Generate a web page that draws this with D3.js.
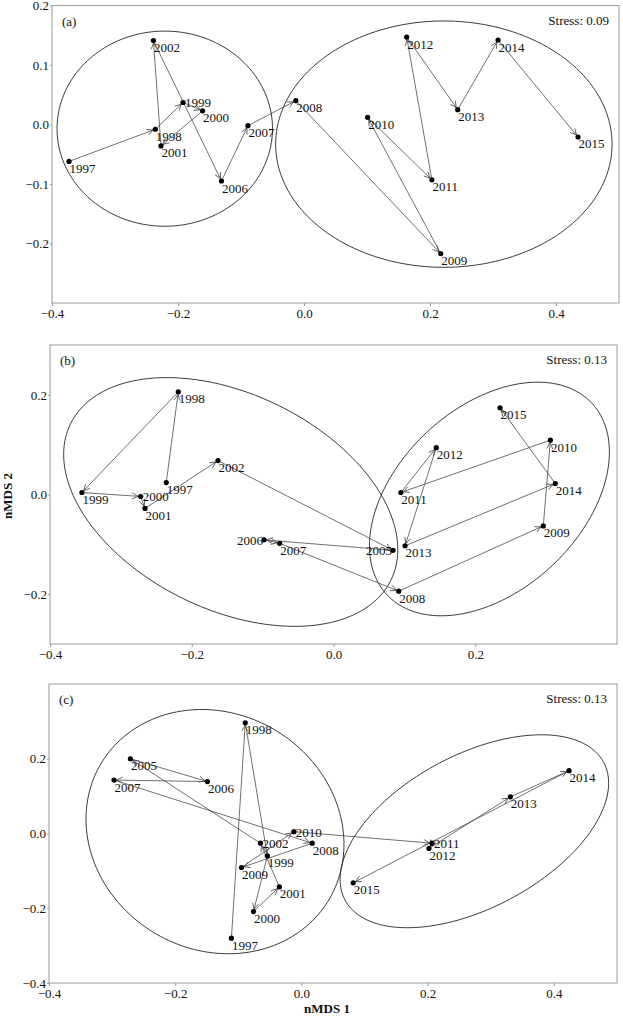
<!DOCTYPE html>
<html>
<head>
<meta charset="utf-8">
<script src="https://cdn.jsdelivr.net/npm/d3@7"></script>
<style>
  body { margin: 0; background: #fff; }
  svg { display: block; }
  svg text { font-family: "Liberation Serif", "Times New Roman", serif; }
</style>
</head>
<body>
<svg id="chart" width="623" height="1018"></svg>
<script>
// ---- data ----
const yearsA = [1997, 1998, 1999, 2000, 2001, 2002, 2006, 2007, 2008, 2009, 2010, 2011, 2012, 2013, 2014, 2015];
const xA = [-0.373, -0.236, -0.192, -0.161, -0.227, -0.239, -0.131, -0.089, -0.013, 0.217, 0.101, 0.203, 0.163, 0.244, 0.308, 0.435];
const yA = [-0.062, -0.008, 0.037, 0.023, -0.036, 0.141, -0.095, -0.002, 0.040, -0.217, 0.012, -0.093, 0.147, 0.025, 0.142, -0.021];

const yearsB = [1997, 1998, 1999, 2000, 2001, 2002, 2005, 2006, 2007, 2008, 2009, 2010, 2011, 2012, 2013, 2014, 2015];
const xB = [-0.236, -0.219, -0.355, -0.272, -0.266, -0.163, 0.084, -0.098, -0.076, 0.092, 0.296, 0.306, 0.095, 0.145, 0.101, 0.313, 0.235];
const yB = [0.024, 0.206, 0.004, -0.004, -0.028, 0.068, -0.112, -0.091, -0.098, -0.194, -0.063, 0.109, 0.004, 0.094, -0.103, 0.022, 0.174];

const yearsC = [1997, 1998, 1999, 2000, 2001, 2002, 2005, 2006, 2007, 2008, 2009, 2010, 2011, 2012, 2013, 2014, 2015];
const xC = [-0.111, -0.089, -0.054, -0.076, -0.035, -0.065, -0.271, -0.149, -0.297, 0.017, -0.095, -0.012, 0.207, 0.202, 0.331, 0.424, 0.082];
const yC = [-0.280, 0.296, -0.060, -0.209, -0.143, -0.026, 0.200, 0.139, 0.143, -0.026, -0.091, 0.005, -0.026, -0.040, 0.098, 0.168, -0.132];

// group ellipses: centre and two half-axis vectors, all in data units
const ellipsesA = [
  { cx: -0.221, cy: -0.007, ux: 0.171, uy: 0, vx: 0, vy: 0.164 },
  { cx: 0.222, cy: -0.033, ux: 0.267, uy: 0, vx: 0, vy: 0.207 }
];
const ellipsesB = [
  { cx: -0.145, cy: -0.015, ux: 0.226, uy: -0.157, vx: -0.067, vy: -0.194 },
  { cx: 0.220, cy: -0.009, ux: 0.144, uy: 0.193, vx: 0.089, vy: -0.133 }
];
const ellipsesC = [
  { cx: -0.137, cy: 0.005, ux: 0.182, uy: -0.178, vx: -0.093, vy: -0.274 },
  { cx: 0.274, cy: 0.006, ux: 0.205, uy: 0.184, vx: 0.057, vy: -0.181 }
];

const stressA = "Stress: 0.09";
const stressB = "Stress: 0.13";
const stressC = "Stress: 0.13";

const xTicksA = [-0.4, -0.2, 0.0, 0.2, 0.4];
const yTicksA = [-0.2, -0.1, 0.0, 0.1, 0.2];
const xTicksB = [-0.4, -0.2, 0.0, 0.2];
const yTicksB = [-0.2, 0.0, 0.2];
const xTicksC = [-0.4, -0.2, 0.0, 0.2, 0.4];
const yTicksC = [-0.4, -0.2, 0.0, 0.2];

// label placement exceptions (default: below right of the point)
const labelPosA = { 1999: "right" };
const labelPosB = { 2000: "right", 2005: "left", 2006: "left" };
const labelPosC = { 2002: "right", 2010: "right", 2011: "right" };

const svg = d3.select("#chart");
const lineColor = "#4a4a4a";
const frameColor = "#9a9a9a";
const serif = "'Liberation Serif', 'Times New Roman', serif";

svg.append("defs").append("marker")
  .attr("id", "arrow")
  .attr("viewBox", "-7 -4 8 8")
  .attr("refX", 0)
  .attr("refY", 0)
  .attr("markerWidth", 8)
  .attr("markerHeight", 8)
  .attr("markerUnits", "userSpaceOnUse")
  .attr("orient", "auto")
  .append("path")
  .attr("d", "M-6,-3L0,0L-6,3")
  .attr("fill", "none")
  .attr("stroke", lineColor)
  .attr("stroke-width", 0.8);

function drawPanel(cfg) {
  const x = d3.scaleLinear().domain(cfg.xDomain).range([cfg.left, cfg.right]);
  const y = d3.scaleLinear().domain(cfg.yDomain).range([cfg.bottom, cfg.top]);
  const g = svg.append("g");

  // frame
  g.append("rect")
    .attr("x", cfg.left).attr("y", cfg.top)
    .attr("width", cfg.right - cfg.left).attr("height", cfg.bottom - cfg.top)
    .attr("fill", "none").attr("stroke", frameColor).attr("stroke-width", 1);

  const fmt = d3.format(".1f");
  const xAxis = g.append("g")
    .attr("transform", `translate(0,${cfg.bottom})`)
    .call(d3.axisBottom(x).tickValues(cfg.xTicks).tickSize(3).tickPadding(3).tickFormat(fmt));
  const yAxis = g.append("g")
    .attr("transform", `translate(${cfg.left},0)`)
    .call(d3.axisLeft(y).tickValues(cfg.yTicks).tickSize(2).tickPadding(1).tickFormat(fmt));
  [xAxis, yAxis].forEach((ax) => {
    ax.attr("font-family", serif);
    ax.select(".domain").remove();
    ax.selectAll("line").attr("stroke", frameColor);
    ax.selectAll("text")
      .attr("fill", "#111")
      .style("font-family", serif)
      .style("font-size", "13px");
  });

  // ellipses
  const ell = d3.line().curve(d3.curveLinearClosed);
  cfg.ellipses.forEach((e) => {
    const pts = d3.range(0, 2 * Math.PI, Math.PI / 90).map((t) => [
      x(e.cx + Math.cos(t) * e.ux + Math.sin(t) * e.vx),
      y(e.cy + Math.cos(t) * e.uy + Math.sin(t) * e.vy)
    ]);
    g.append("path").attr("d", ell(pts))
      .attr("fill", "none").attr("stroke", "#222").attr("stroke-width", 0.9);
  });

  const pts = cfg.years.map((yr, i) => ({ yr, px: x(cfg.xs[i]), py: y(cfg.ys[i]) }));

  // trajectory arrows
  for (let i = 0; i < pts.length - 1; i++) {
    const a = pts[i], b = pts[i + 1];
    const dx = b.px - a.px, dy = b.py - a.py;
    const len = Math.hypot(dx, dy);
    const k = Math.max(0, (len - 2.5) / len);
    g.append("line")
      .attr("x1", a.px).attr("y1", a.py)
      .attr("x2", a.px + dx * k).attr("y2", a.py + dy * k)
      .attr("stroke", lineColor).attr("stroke-width", 0.8)
      .attr("marker-end", "url(#arrow)");
  }

  // points
  g.selectAll("circle.pt").data(pts).enter().append("circle")
    .attr("cx", (d) => d.px).attr("cy", (d) => d.py).attr("r", 2.6)
    .attr("fill", "#000");

  // year labels
  g.selectAll("text.lab").data(pts).enter().append("text")
    .attr("x", (d) => {
      const p = cfg.labelPos[d.yr];
      if (p === "left") return d.px - 1;
      if (p === "right") return d.px + 2;
      return d.px + 0.5;
    })
    .attr("y", (d) => (cfg.labelPos[d.yr] ? d.py + 5 : d.py + 11.5))
    .attr("text-anchor", (d) => (cfg.labelPos[d.yr] === "left" ? "end" : "start"))
    .style("font-family", serif)
    .style("font-size", "13px")
    .attr("fill", "#111")
    .text((d) => d.yr);

  g.append("text")
    .attr("x", cfg.left + 10).attr("y", cfg.top + 20)
    .style("font-family", serif)
    .style("font-size", "13px").attr("fill", "#111")
    .text(cfg.tag);
  g.append("text")
    .attr("x", cfg.right - 10).attr("y", cfg.top + 19)
    .attr("text-anchor", "end")
    .style("font-family", serif)
    .style("font-size", "13px").attr("fill", "#111")
    .text(cfg.stress);
}

drawPanel({
  left: 52, right: 619, top: 5.5, bottom: 303,
  xDomain: [-0.4, 0.5], yDomain: [-0.3, 0.2],
  xTicks: xTicksA, yTicks: yTicksA,
  years: yearsA, xs: xA, ys: yA, ellipses: ellipsesA,
  labelPos: labelPosA, tag: "(a)", stress: stressA
});
drawPanel({
  left: 50, right: 617, top: 345, bottom: 644,
  xDomain: [-0.4, 0.4], yDomain: [-0.3, 0.3],
  xTicks: xTicksB, yTicks: yTicksB,
  years: yearsB, xs: xB, ys: yB, ellipses: ellipsesB,
  labelPos: labelPosB, tag: "(b)", stress: stressB
});
drawPanel({
  left: 49, right: 617, top: 684, bottom: 983,
  xDomain: [-0.4, 0.5], yDomain: [-0.4, 0.4],
  xTicks: xTicksC, yTicks: yTicksC,
  years: yearsC, xs: xC, ys: yC, ellipses: ellipsesC,
  labelPos: labelPosC, tag: "(c)", stress: stressC
});

// shared axis titles
svg.append("text")
  .attr("transform", "translate(12,496) rotate(-90)")
  .attr("text-anchor", "middle")
  .style("font-family", serif)
  .style("font-size", "13px").style("font-weight", "bold")
  .attr("fill", "#111")
  .text("nMDS 2");
svg.append("text")
  .attr("x", 327).attr("y", 1013)
  .attr("text-anchor", "middle")
  .style("font-family", serif)
  .style("font-size", "13px").style("font-weight", "bold")
  .attr("fill", "#111")
  .text("nMDS 1");
</script>
</body>
</html>
